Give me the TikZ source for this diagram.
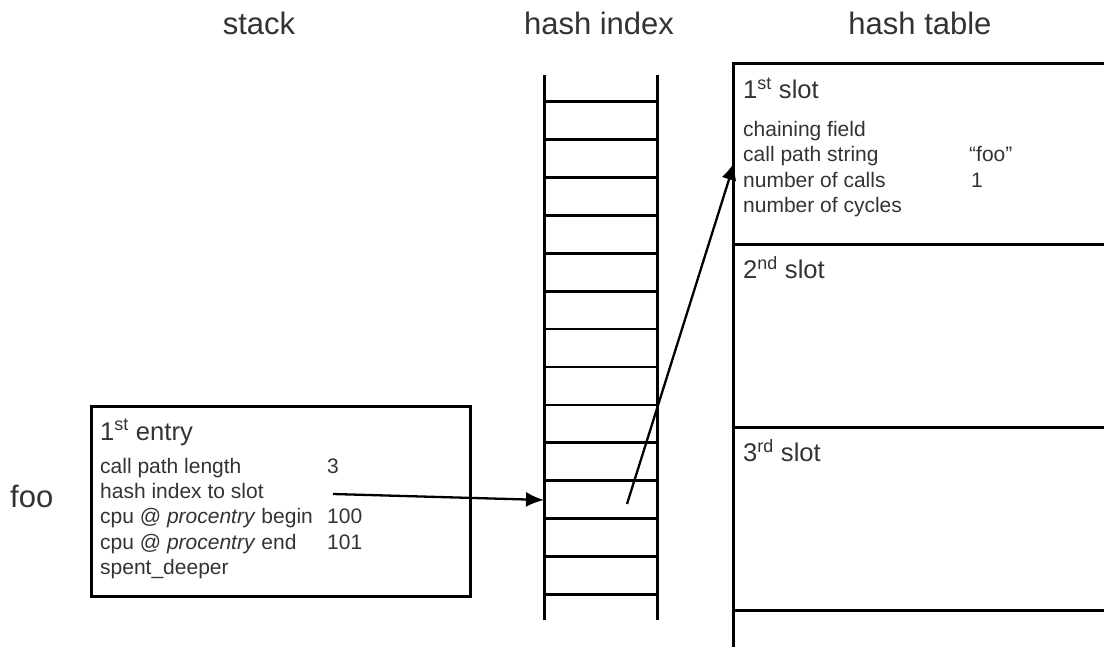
\documentclass[tikz,border=0pt]{standalone}
\usepackage{fontspec}
\setmainfont{Liberation Sans}
\usetikzlibrary{positioning,arrows.meta}

\begin{document}
\begin{tikzpicture}[x=1pt,y=-1pt,
        title/.style={font=\fontsize{31}{37}\selectfont,text=black!80,inner sep=0pt,anchor=base},
        head/.style={font=\fontsize{25.6}{30}\selectfont,text=black!80,inner sep=0pt,anchor=base west},
        field/.style={font=\fontsize{21}{25}\selectfont,text=black!80,inner sep=0pt,anchor=base west},
        box/.style={draw,line width=2.8pt,inner sep=0pt,anchor=north west},
        rail/.style={line width=3pt},
        rung/.style={line width=2.8pt},
        link/.style={-{Latex[length=18pt,width=15pt]},line width=2.3pt}]
        \useasboundingbox (0,0) rectangle (1104,647);

        % titles
        \node[title] (tstack) at (259,35) {stack};
        \node[title] (tindex) at (599,35) {hash index};
        \node[title] (ttable) at (920,35) {hash table};

        % stack entry
        \node[title,anchor=base west] (foo) at (10,507) {foo};
        \node[box,minimum width=379pt,minimum height=190pt] (entry) at (90,405) {};
        \node[head] (ehead) at (100,440) {1\textsuperscript{st} entry};
        \node[field] (e1) at (100,473) {call path length};
        \node[field] (e2) at (100,498.5) {hash index to slot};
        \node[field] (e3) at (100,523.5) {cpu @ \textit{procentry} begin};
        \node[field] (e4) at (100,549) {cpu @ \textit{procentry} end};
        \node[field] (e5) at (100,574) {spent\_deeper};
        \node[field] (v1) at (327,473) {3};
        \node[field] (v3) at (327,523.5) {100};
        \node[field] (v4) at (327,549) {101};

        % hash index
        \draw[rail] (544,75) -- (544,620);
        \draw[rail] (657,75) -- (657,620);
        \foreach \k in {0,...,13}
            \draw[rung] (544,{101.7+37.9*\k}) -- (657,{101.7+37.9*\k});

        % hash table
        \draw[rail] (733.4,647) -- (733.4,64) -- (1110,64);
        \foreach \y in {244.3,427.3,610}
            \draw[rail] (733.4,\y) -- (1110,\y);
        \node[head] (s1) at (743,98.3) {1\textsuperscript{st} slot};
        \node[field] (f1) at (743,136.7) {chaining field};
        \node[field] (f2) at (743,161.7) {call path string};
        \node[field] (f3) at (743,187.5) {number of calls};
        \node[field] (f4) at (743,213) {number of cycles};
        \node[field] (w2) at (969,161.7) {“foo”};
        \node[field] (w3) at (971,187.5) {1};
        \node[head] (s2) at (743,279) {2\textsuperscript{nd} slot};
        \node[head] (s3) at (743,461.5) {3\textsuperscript{rd} slot};

        % links
        \coordinate (slotref) at (333,494);
        \coordinate (cell) at (544,500);
        \coordinate (cellref) at (627,504);
        \coordinate (slotin) at (734.5,162);
        \draw[link] (slotref) -- (cell);
        \draw[link] (cellref) -- (slotin);
    \end{tikzpicture}
\end{document}
